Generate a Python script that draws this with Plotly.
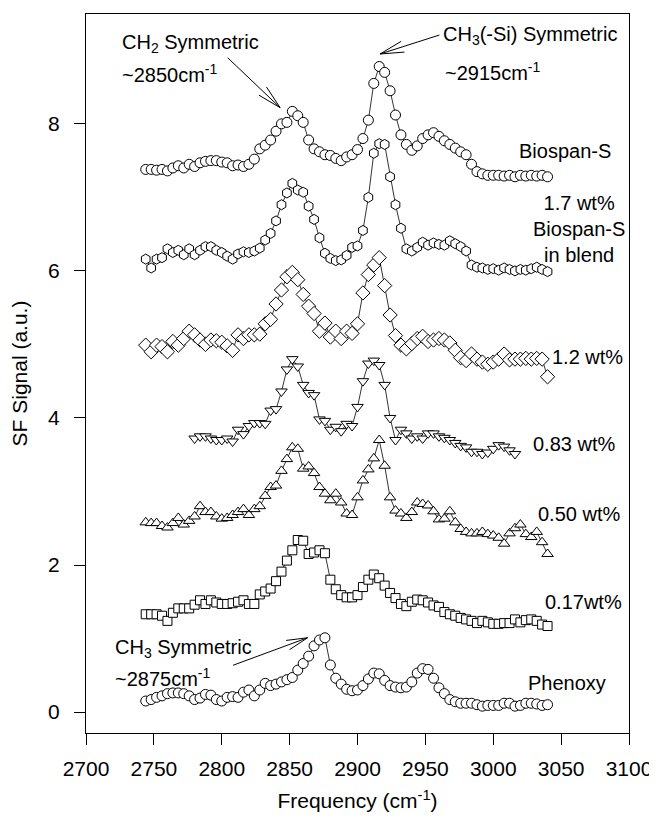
import math
import plotly.graph_objects as go

# ---------------- data ----------------
FREQ = [2744, 2748, 2752, 2756, 2760, 2764, 2768, 2772, 2776, 2780,
        2784, 2788, 2792, 2796, 2800, 2804, 2808, 2812, 2816, 2820,
        2824, 2828, 2832, 2836, 2840, 2844, 2848, 2852, 2856, 2860,
        2864, 2868, 2872, 2876, 2880, 2884, 2888, 2892, 2896, 2900,
        2904, 2908, 2912, 2916, 2920, 2924, 2928, 2932, 2936, 2940,
        2944, 2948, 2952, 2956, 2960, 2964, 2968, 2972, 2976, 2980,
        2984, 2988, 2992, 2996, 3000, 3004, 3008, 3012, 3016, 3020,
        3024, 3028, 3032, 3036, 3040]

FREQ_083 = [2780, 2784, 2788, 2792, 2796, 2800, 2804, 2808, 2812, 2816,
            2820, 2824, 2828, 2832, 2836, 2840, 2844, 2848, 2852, 2856,
            2860, 2864, 2868, 2872, 2876, 2880, 2884, 2888, 2892, 2896,
            2900, 2904, 2908, 2912, 2916, 2920, 2924, 2928, 2932, 2936,
            2940, 2944, 2948, 2952, 2956, 2960, 2964, 2968, 2972, 2976,
            2980, 2984, 2988, 2992, 2996, 3000, 3004, 3008, 3012, 3016]

biospan_s = [7.38, 7.38, 7.37, 7.38, 7.36, 7.40, 7.43, 7.40, 7.45, 7.42,
             7.47, 7.49, 7.50, 7.50, 7.48, 7.47, 7.43, 7.44, 7.42, 7.45,
             7.52, 7.66, 7.71, 7.78, 7.90, 8.00, 8.02, 8.17, 8.11, 8.02,
             7.78, 7.66, 7.62, 7.58, 7.57, 7.53, 7.50, 7.55, 7.58, 7.65,
             7.80, 8.05, 8.55, 8.78, 8.70, 8.45, 8.12, 7.85, 7.72, 7.64,
             7.70, 7.80, 7.85, 7.88, 7.83, 7.77, 7.72, 7.67, 7.62, 7.58,
             7.45, 7.35, 7.32, 7.30, 7.30, 7.30, 7.29, 7.30, 7.28, 7.30,
             7.29, 7.30, 7.29, 7.30, 7.28]

blend_17 = [6.16, 6.04, 6.16, 6.18, 6.30, 6.25, 6.28, 6.22, 6.30, 6.22,
            6.28, 6.33, 6.33, 6.28, 6.25, 6.20, 6.16, 6.23, 6.26, 6.25,
            6.27, 6.31, 6.42, 6.51, 6.68, 6.90, 7.06, 7.19, 7.10, 7.07,
            6.88, 6.70, 6.45, 6.24, 6.17, 6.14, 6.15, 6.21, 6.32, 6.34,
            6.55, 7.00, 7.60, 7.73, 7.72, 7.28, 6.90, 6.58, 6.30, 6.27,
            6.32, 6.39, 6.35, 6.38, 6.36, 6.35, 6.41, 6.37, 6.33, 6.27,
            6.08, 6.05, 6.04, 6.02, 6.03, 6.01, 6.04, 6.02, 6.00, 6.02,
            6.01, 6.03, 6.05, 6.02, 5.99]

blend_12 = [4.99, 4.90, 4.99, 4.97, 4.90, 5.04, 4.99, 5.08, 5.18, 5.13,
            5.06, 5.00, 5.06, 5.05, 5.03, 4.98, 4.92, 5.13, 5.08, 5.13,
            5.13, 5.14, 5.28, 5.34, 5.55, 5.74, 5.92, 5.98, 5.88, 5.68,
            5.52, 5.42, 5.18, 5.29, 5.10, 5.18, 5.08, 5.18, 5.15, 5.28,
            5.70, 5.95, 6.08, 6.18, 5.80, 5.40, 5.12, 4.99, 4.94, 5.01,
            5.08, 5.11, 5.04, 5.06, 5.08, 5.06, 5.02, 4.92, 4.82, 4.78,
            4.87, 4.80, 4.76, 4.73, 4.76, 4.80, 4.87, 4.79, 4.80, 4.80,
            4.81, 4.80, 4.81, 4.80, 4.56]

blend_083 = [3.72, 3.75, 3.75, 3.72, 3.70, 3.70, 3.72, 3.68, 3.84, 3.78,
             3.89, 3.93, 3.93, 3.92, 4.10, 4.12, 4.36, 4.66, 4.80, 4.70,
             4.45, 4.34, 4.31, 3.98, 3.96, 3.84, 3.88, 3.82, 3.92, 3.89,
             4.15, 4.50, 4.74, 4.78, 4.72, 4.45, 4.00, 3.70, 3.84, 3.79,
             3.72, 3.75, 3.72, 3.79, 3.79, 3.75, 3.73, 3.70, 3.66, 3.62,
             3.60, 3.54, 3.54, 3.51, 3.53, 3.58, 3.63, 3.61, 3.56, 3.51]

blend_050 = [2.58, 2.57, 2.57, 2.53, 2.51, 2.57, 2.64, 2.55, 2.60, 2.66,
             2.80, 2.72, 2.72, 2.66, 2.63, 2.64, 2.68, 2.72, 2.76, 2.68,
             2.76, 2.80, 2.94, 3.06, 3.08, 3.28, 3.44, 3.60, 3.58, 3.31,
             3.34, 3.25, 3.06, 2.97, 2.88, 2.97, 2.85, 2.70, 2.68, 2.92,
             3.15, 3.30, 3.45, 3.70, 3.35, 2.92, 2.74, 2.70, 2.64, 2.72,
             2.85, 2.83, 2.81, 2.73, 2.62, 2.63, 2.73, 2.58, 2.49, 2.45,
             2.43, 2.43, 2.45, 2.42, 2.40, 2.37, 2.29, 2.43, 2.50, 2.55,
             2.42, 2.38, 2.45, 2.31, 2.15]

blend_017 = [1.33, 1.33, 1.33, 1.31, 1.24, 1.35, 1.41, 1.41, 1.41, 1.46,
             1.52, 1.47, 1.52, 1.49, 1.47, 1.47, 1.48, 1.50, 1.52, 1.47,
             1.47, 1.60, 1.64, 1.68, 1.78, 1.91, 2.06, 2.20, 2.34, 2.33,
             2.15, 2.17, 2.20, 2.16, 1.80, 1.67, 1.59, 1.56, 1.56, 1.59,
             1.70, 1.80, 1.87, 1.82, 1.72, 1.62, 1.55, 1.47, 1.44, 1.50,
             1.53, 1.52, 1.49, 1.45, 1.43, 1.36, 1.33, 1.31, 1.28, 1.26,
             1.24, 1.21, 1.24, 1.22, 1.20, 1.20, 1.21, 1.21, 1.26, 1.22,
             1.25, 1.26, 1.24, 1.19, 1.17]

phenoxy = [0.15, 0.17, 0.20, 0.22, 0.25, 0.26, 0.26, 0.25, 0.22, 0.17,
           0.19, 0.24, 0.23, 0.17, 0.15, 0.20, 0.21, 0.20, 0.27, 0.30,
           0.22, 0.30, 0.39, 0.36, 0.38, 0.41, 0.44, 0.47, 0.57, 0.66,
           0.76, 0.90, 0.98, 1.01, 0.64, 0.46, 0.38, 0.31, 0.29, 0.30,
           0.36, 0.45, 0.53, 0.52, 0.43, 0.36, 0.34, 0.33, 0.34, 0.41,
           0.53, 0.59, 0.58, 0.46, 0.33, 0.25, 0.17, 0.14, 0.12, 0.12,
           0.12, 0.10, 0.08, 0.09, 0.09, 0.09, 0.12, 0.12, 0.08, 0.09,
           0.12, 0.12, 0.11, 0.09, 0.10]

X_TICKS = [2700, 2750, 2800, 2850, 2900, 2950, 3000, 3050, 3100]
Y_TICKS = [0, 2, 4, 6, 8]

# ---------------- figure ----------------
FONT = "Liberation Sans, Arial, sans-serif"
FS = 21        # axis ticks and titles
FS_LABEL = 20  # in-plot labels

X_RANGE = [2700, 3100]
Y_RANGE = [-0.285, 9.494]
FIG_W, FIG_H = 649, 816
MARGIN = dict(l=70, r=25, t=5, b=91)
PLOT_W = FIG_W - MARGIN["l"] - MARGIN["r"]
PLOT_H = FIG_H - MARGIN["t"] - MARGIN["b"]
X_PER_PX = (X_RANGE[1] - X_RANGE[0]) / PLOT_W
Y_PER_PX = (Y_RANGE[1] - Y_RANGE[0]) / PLOT_H

series = [
    (FREQ, biospan_s, "circle", 10),
    (FREQ, blend_17, "hexagon", 10),
    (FREQ, blend_12, "diamond", 11),
    (FREQ_083, blend_083, "triangle-down", 10),
    (FREQ, blend_050, "triangle-up", 10),
    (FREQ, blend_017, "square", 9),
    (FREQ, phenoxy, "circle", 10),
]

fig = go.Figure()
for xs, ys, sym, size in series:
    fig.add_trace(go.Scatter(
        x=xs, y=ys, mode="lines+markers",
        line=dict(color="black", width=0.8),
        marker=dict(symbol=sym, size=size, color="white",
                    line=dict(color="black", width=1)),
        showlegend=False, hoverinfo="skip"))

annotations = []

def label(x, y, text, anchor="left"):
    annotations.append(dict(x=x, y=y, text=text, showarrow=False,
                            xanchor=anchor, yanchor="middle",
                            font=dict(family=FONT, size=FS_LABEL, color="black")))

label(3017.7, 7.63, "Biospan-S")
label(3027.8, 6.57, "1.7 wt%<br>Biospan-S<br>in blend")
label(3041.6, 4.83, "1.2 wt%")
label(3027.8, 3.65, "0.83 wt%")
label(3031.4, 2.69, "0.50 wt%")
label(3036.3, 1.49, "0.17wt%")
label(3023.9, 0.40, "Phenoxy")
label(2725.3, 9.09, "CH<sub>2</sub> Symmetric")
label(2725.3, 8.69, "~2850cm<sup>-1</sup>")
label(2961.4, 9.20, "CH<sub>3</sub>(-Si) Symmetric")
label(2962.8, 8.71, "~2915cm<sup>-1</sup>")
label(2720.1, 0.87, "CH<sub>3</sub> Symmetric")
label(2720.1, 0.475, "~2875cm<sup>-1</sup>")

shapes = []

def seg_px(x, y, dx_px, dy_px):
    # line from data point (x, y) to a point offset in screen pixels (dy down)
    shapes.append(dict(type="line", xref="x", yref="y",
                       x0=x, y0=y,
                       x1=x + dx_px * X_PER_PX, y1=y - dy_px * Y_PER_PX,
                       line=dict(color="black", width=1)))


def arrow(x, y, dx_px, dy_px, barb=25, half_angle=13):
    seg_px(x, y, dx_px, dy_px)
    ang = math.atan2(dy_px, dx_px)
    for s in (-1, 1):
        a = ang + s * math.radians(half_angle)
        seg_px(x, y, barb * math.cos(a), barb * math.sin(a))


arrow(2843.0, 8.22, -53.5, -50)
arrow(2916.6, 8.95, 60.6, -19)
arrow(2863.2, 1.01, -76, 27.5, barb=22)

fig.update_layout(
    width=FIG_W, height=FIG_H,
    margin=MARGIN,
    paper_bgcolor="white", plot_bgcolor="white",
    font=dict(family=FONT, size=FS, color="black"),
    annotations=annotations,
    shapes=shapes,
    xaxis=dict(range=X_RANGE, tickvals=X_TICKS,
               ticktext=[str(v) for v in X_TICKS],
               showline=True, mirror=True, linecolor="black", linewidth=1,
               ticks="outside", ticklen=11, tickwidth=1, tickcolor="black",
               showgrid=False, zeroline=False, ticklabelstandoff=6,
               tickfont=dict(family=FONT, size=FS),
               title=dict(text="Frequency (cm<sup>-1</sup>)", standoff=14,
                          font=dict(family=FONT, size=FS))),
    yaxis=dict(range=Y_RANGE, tickvals=Y_TICKS,
               ticktext=[str(v) for v in Y_TICKS],
               showline=True, mirror=True, linecolor="black", linewidth=1,
               ticks="outside", ticklen=11, tickwidth=1, tickcolor="black",
               showgrid=False, zeroline=False, ticklabelstandoff=10,
               tickfont=dict(family=FONT, size=FS),
               title=dict(text="SF Signal (a.u.)", standoff=20,
                          font=dict(family=FONT, size=FS))),
)

fig.write_html("out.html")
